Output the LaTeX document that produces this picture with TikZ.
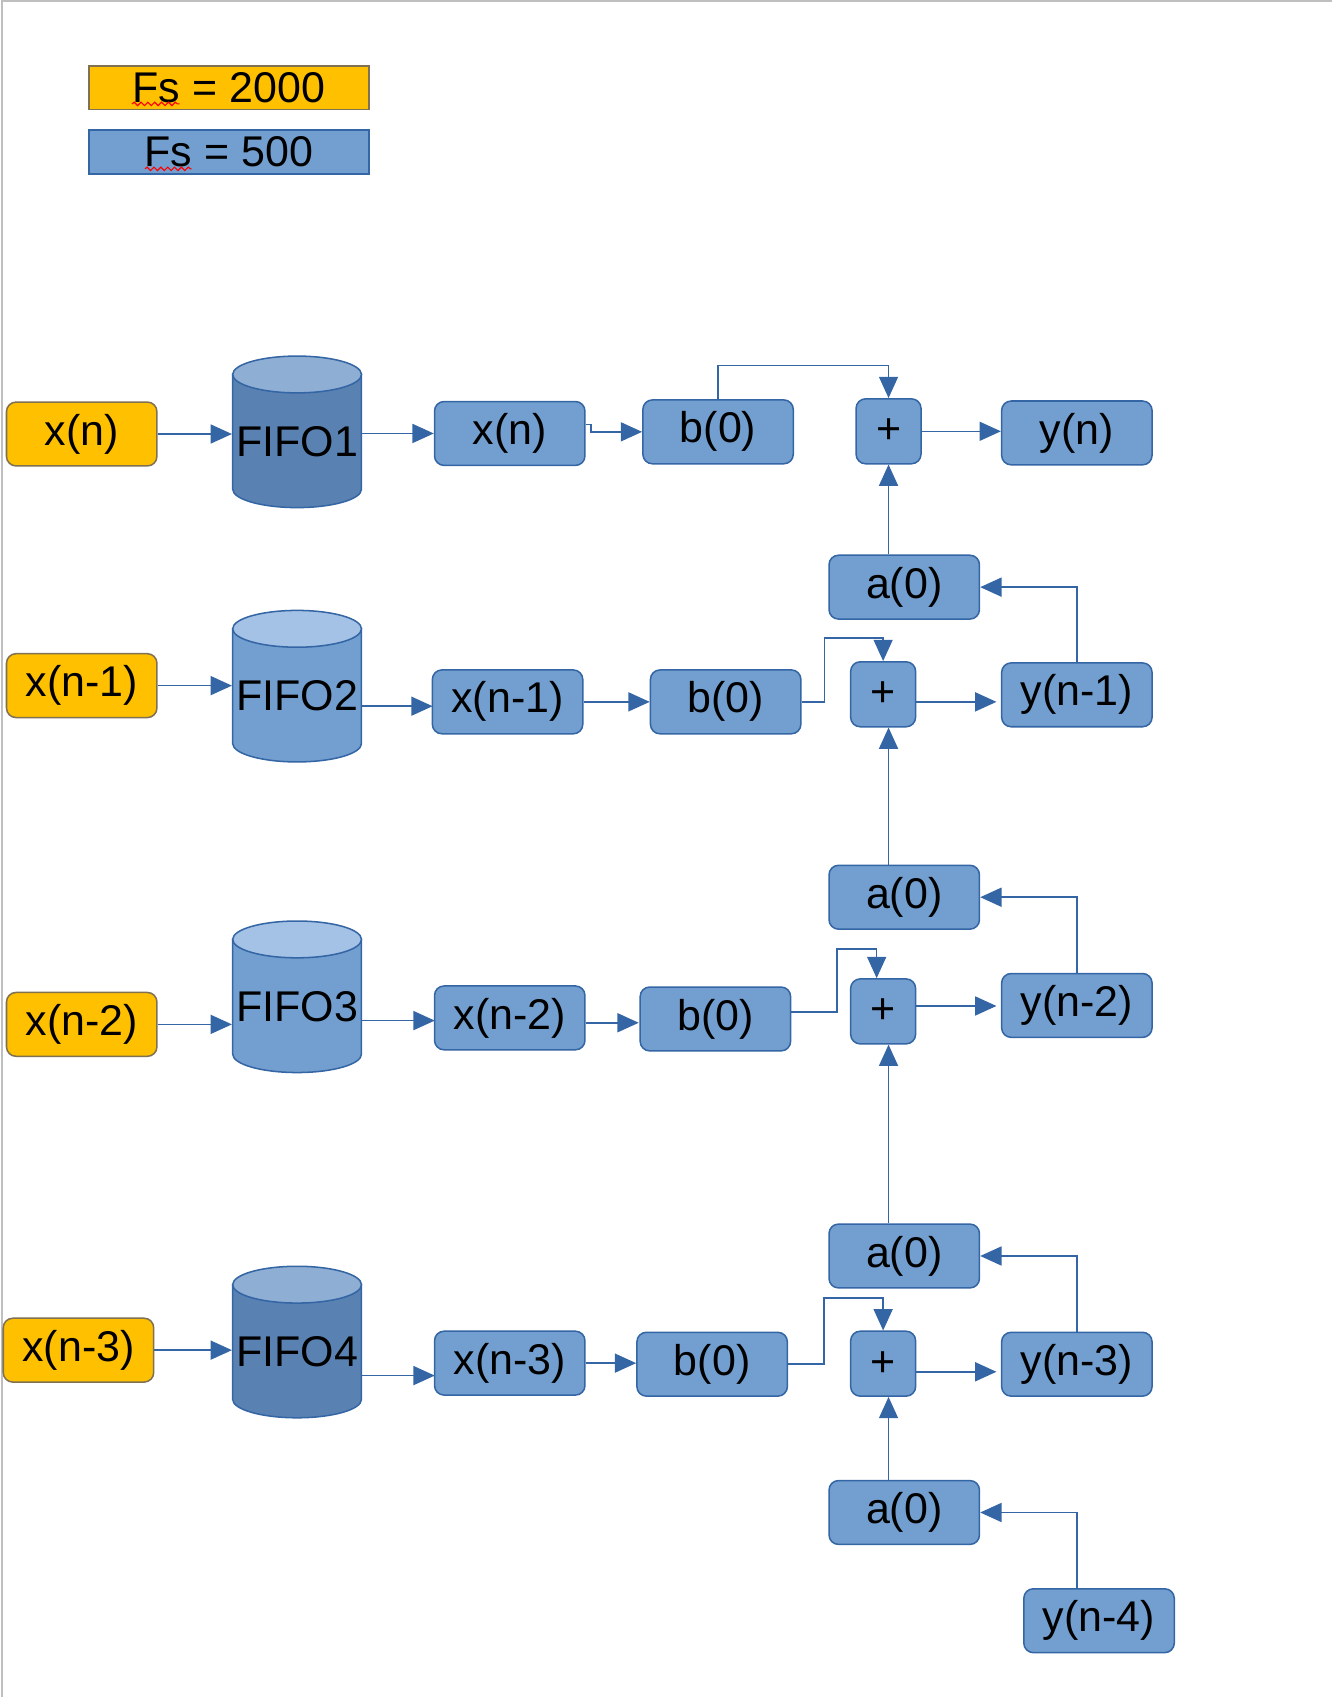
\documentclass[tikz,border=0pt]{standalone}
\usepackage{fontspec}
\setmainfont{Liberation Sans}
\usetikzlibrary{arrows.meta,decorations.pathmorphing}

\definecolor{boxblue}{HTML}{729FCF}
\definecolor{lineblue}{HTML}{3465A4}
\definecolor{inorange}{HTML}{FFC000}
\definecolor{inborder}{HTML}{7F7152}
\definecolor{fifodark}{HTML}{5982B2}
\definecolor{fifodarktop}{HTML}{8FAED4}
\definecolor{fifolight}{HTML}{729FCF}
\definecolor{fifolighttop}{HTML}{A4C2E6}
\definecolor{pageedge}{HTML}{BFBFBF}

\tikzset{
  blockbox/.style={draw=lineblue, fill=boxblue, line width=0.4pt, rounded corners=2.5pt,
    minimum width=1.39cm, minimum height=0.59cm, inner sep=0pt,
    font=\fontsize{11.3}{13}\selectfont},
  inbox/.style={blockbox, draw=inborder, fill=inorange},
  addbox/.style={blockbox, minimum width=0.6cm, minimum height=0.6cm},
  legendbox/.style={blockbox, sharp corners, minimum width=2.59cm, minimum height=0.405cm},
  fifotext/.style={minimum width=1.19cm, minimum height=1.06cm, inner sep=0pt,
    font=\fontsize{11.3}{13}\selectfont},
  wire/.style={draw=lineblue, line width=0.4pt, -{Triangle[length=5.6pt,width=5pt]}},
  spellmark/.style={red, line width=0.3pt, decorate,
    decoration={snake, segment length=1.8pt, amplitude=0.45pt}}
}

% FIFO tank: top y, body colour, lid colour
\newcommand{\fifotank}[3]{%
  \filldraw[draw=lineblue, fill=#2, line width=0.4pt]
    (215,#1+17) -- (215,#1+123) arc[start angle=180, end angle=0, x radius=59.5, y radius=17]
    -- (334,#1+17) -- cycle;
  \filldraw[draw=lineblue, fill=#3, line width=0.4pt]
    (274.5,#1+17) ellipse [x radius=59.5, y radius=17];
}

\begin{document}
\begin{tikzpicture}[x=0.1mm, y=-0.1mm]
    \useasboundingbox (0,0) rectangle (1231,1568);
    % Page edge
    \draw[pageedge, line width=0.5pt] (2,1568) -- (2,1) -- (1231,1);

    % Legend
    \node[legendbox, draw=inborder, fill=inorange] (fs1) at (211.5,81) {Fs = 2000};
    \node[legendbox] (fs2) at (211.5,140.5) {Fs = 500};
    \draw[spellmark] (122,96) -- (166,96);
    \draw[spellmark] (134,156) -- (177,156);

    % Input samples
    \node[inbox] (xin1) at (75.5,401) {x(n)};
    \node[inbox] (xin2) at (75.5,633.5) {x(n-1)};
    \node[inbox] (xin3) at (75.5,946.5) {x(n-2)};
    \node[inbox] (xin4) at (72.5,1247.5) {x(n-3)};

    % FIFOs
    \fifotank{329}{fifodark}{fifodarktop}
    \fifotank{564}{fifolight}{fifolighttop}
    \fifotank{851}{fifolight}{fifolighttop}
    \fifotank{1170}{fifodark}{fifodarktop}
    \node[fifotext] (fifo1) at (274.5,408) {FIFO1};
    \node[fifotext] (fifo2) at (274.5,643) {FIFO2};
    \node[fifotext] (fifo3) at (274.5,930) {FIFO3};
    \node[fifotext] (fifo4) at (274.5,1249) {FIFO4};

    % FIFO outputs
    \node[blockbox] (xb1) at (471,400.5) {x(n)};
    \node[blockbox] (xb2) at (469,648.5) {x(n-1)};
    \node[blockbox] (xb3) at (471,940.5) {x(n-2)};
    \node[blockbox] (xb4) at (471,1259.5) {x(n-3)};

    % b coefficients
    \node[blockbox] (bb1) at (663.5,399) {b(0)};
    \node[blockbox] (bb2) at (670.5,648.5) {b(0)};
    \node[blockbox] (bb3) at (661,941.5) {b(0)};
    \node[blockbox] (bb4) at (658,1260.5) {b(0)};

    % Adders
    \node[addbox] (p1) at (821,398.5) {+};
    \node[addbox] (p2) at (816,641.5) {+};
    \node[addbox] (p3) at (816,934.5) {+};
    \node[addbox] (p4) at (816,1260) {+};

    % Outputs
    \node[blockbox] (y1) at (995,400) {y(n)};
    \node[blockbox] (y2) at (995,642) {y(n-1)};
    \node[blockbox] (y3) at (995,929) {y(n-2)};
    \node[blockbox] (y4) at (995,1260.5) {y(n-3)};
    \node[blockbox] (y5) at (1015.5,1497.5) {y(n-4)};

    % a coefficients
    \node[blockbox] (a1) at (835.5,542.5) {a(0)};
    \node[blockbox] (a2) at (835.5,829) {a(0)};
    \node[blockbox] (a3) at (835.5,1160.5) {a(0)};
    \node[blockbox] (a4) at (835.5,1397.5) {a(0)};

    % Row 1
    \draw[wire] (xin1.east) -- (xin1.east -| fifo1.west);
    \draw[wire] (fifo1.east |- xb1.west) -- (xb1.west);
    \draw[wire] ([yshift=2.3pt]xb1.east) -- ++(5,0) |- (bb1.west);
    \draw[wire] (bb1.north) -- ++(0,-31) -| (p1.north);
    \draw[wire] (p1.east) -- (p1.east -| y1.west);
    \draw[wire] (a1.north -| p1) -- (p1.south);
    \draw[wire] (y2.north) |- (a1.east);

    % Row 2
    \draw[wire] (xin2.east) -- (xin2.east -| fifo2.west);
    \draw[wire] (fifo2.east |- xb2.west) ++(0,4) -- ++(65,0);
    \draw[wire] (xb2.east) -- (xb2.east -| bb2.west);
    \draw[wire] (bb2.east) -- ++(21,0) -- ++(0,-59) -| (p2.north);
    \draw[wire] (p2.east) ++(0,7) -- ++(74,0);
    \draw[wire] (a2.north -| p1) -- (p2.south -| p1);
    \draw[wire] (y3.north) |- (a2.east);

    % Row 3
    \draw[wire] (xin3.east) -- (xin3.east -| fifo3.west);
    \draw[wire] (fifo3.east |- xb3.west) ++(0,2.5) -- ++(67,0);
    \draw[wire] (xb3.east) ++(0,4.5) -- ++(49,0);
    \draw[wire] (bb3.east) ++(0,-6.5) -- ++(42,0) -- ++(0,-58) -| ([xshift=-1.7pt]p3.north);
    \draw[wire] (p3.east) ++(0,-5) -- ++(74,0);
    \draw[wire] (a3.north -| p1) -- (p3.south -| p1);
    \draw[wire] (y4.north) |- (a3.east);

    % Row 4
    \draw[wire] (xin4.east) -- (xin4.east -| fifo4.west);
    \draw[wire] (fifo4.east |- xb4.west) ++(0,11.5) -- ++(67,0);
    \draw[wire] (xb4.east) -- (xb4.east -| bb4.west);
    \draw[wire] (bb4.east) -- ++(33,0) -- ++(0,-61) -| (p4.north);
    \draw[wire] (p4.east) ++(0,7.5) -- ++(74,0);
    \draw[wire] (a4.north -| p1) -- (p4.south -| p1);
    \draw[wire] (y5.north -| y4.north) |- (a4.east);
\end{tikzpicture}
\end{document}
